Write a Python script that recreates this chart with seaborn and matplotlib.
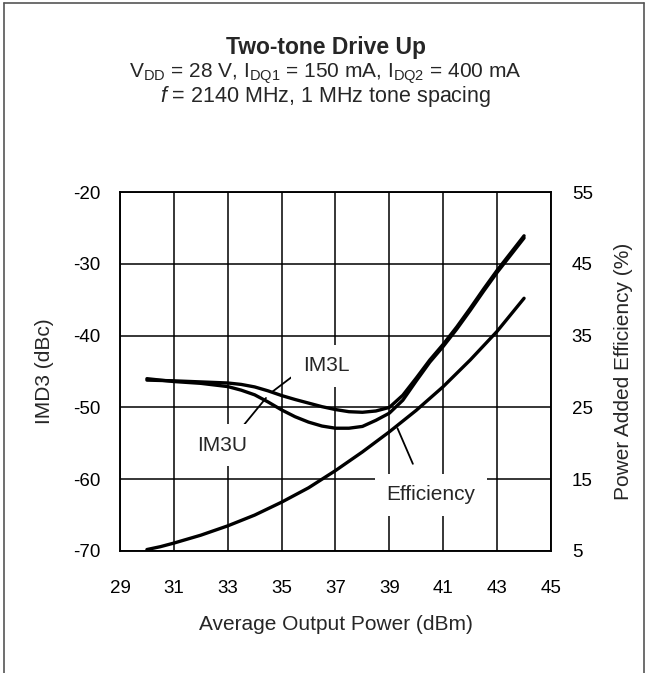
import matplotlib
matplotlib.use("Agg")
import matplotlib.pyplot as plt
from matplotlib.lines import Line2D
import pandas as pd
import seaborn as sns

# Average output power (dBm) for the two IMD3 curves
pout = [30, 31, 32, 33, 33.5, 34, 34.5, 35, 35.5, 36, 36.5, 37, 37.5, 38, 38.5,
        39, 39.5, 40, 40.5, 41, 41.5, 42, 42.5, 43, 43.5, 44]
# IMD3 (dBc)
im3l = [-46.2, -46.3, -46.45, -46.6, -46.8, -47.15, -47.7, -48.35, -48.9, -49.4,
        -49.9, -50.3, -50.6, -50.68, -50.5, -50.0, -48.3, -45.9, -43.4, -41.2,
        -38.8, -36.2, -33.5, -30.9, -28.5, -26.1]
im3u = [-46.0, -46.4, -46.65, -47.1, -47.6, -48.25, -49.25, -50.35, -51.3, -52.05,
        -52.6, -52.9, -52.9, -52.65, -51.8, -50.8, -49.0, -46.3, -43.7, -41.5,
        -39.1, -36.5, -33.8, -31.2, -28.8, -26.4]
# Power added efficiency (%)
eff_pout = [30, 30.5, 31, 32, 33, 34, 35, 36, 37, 38, 39, 40, 41, 42, 43, 44]
eff = [5.2, 5.6, 6.1, 7.2, 8.5, 10.0, 11.8, 13.8, 16.2, 18.8, 21.6, 24.6, 27.9,
       31.6, 35.6, 40.2]

x_ticks = [29, 31, 33, 35, 37, 39, 41, 43, 45]
imd_ticks = [-70, -60, -50, -40, -30, -20]
eff_ticks = [5, 15, 25, 35, 45, 55]

sns.set_theme(style="white")
plt.rcParams["font.family"] = ["Liberation Sans", "DejaVu Sans"]
plt.rcParams["mathtext.fontset"] = "custom"
plt.rcParams["mathtext.rm"] = "Liberation Sans"
plt.rcParams["mathtext.it"] = "Liberation Sans:italic"
plt.rcParams["axes.unicode_minus"] = False

df = pd.DataFrame({"pout": pout, "IM3L": im3l, "IM3U": im3u})
df_eff = pd.DataFrame({"pout": eff_pout, "eff": eff})

fig = plt.figure(figsize=(6.51, 6.73), dpi=100)
ax = fig.add_axes([0.1843, 0.1813, 0.6621, 0.5334])
ax2 = ax.twinx()

lw_curve = 2.4
sns.lineplot(data=df, x="pout", y="IM3L", ax=ax, color="black", lw=lw_curve)
sns.lineplot(data=df, x="pout", y="IM3U", ax=ax, color="black", lw=lw_curve)
sns.lineplot(data=df_eff, x="pout", y="eff", ax=ax2, color="black", lw=lw_curve)

ax.set_xlim(29, 45)
ax.set_ylim(-70, -20)
ax2.set_ylim(5, 55)
ax.set_xticks(x_ticks)
ax.set_yticks(imd_ticks)
ax2.set_yticks(eff_ticks)

ax.grid(True, color="black", lw=1.1)
for a in (ax, ax2):
    for s in a.spines.values():
        s.set_color("black")
        s.set_linewidth(1.1)
ax.tick_params(axis="both", length=0, labelsize=13.5, colors="black")
ax.tick_params(axis="y", pad=14)
ax.tick_params(axis="x", pad=21)
ax2.tick_params(axis="y", length=0, labelsize=13.5, pad=15, colors="black")

ax.set_xlabel("Average Output Power (dBm)", fontsize=15, labelpad=13)
ax.set_ylabel("IMD3 (dBc)", fontsize=15, labelpad=14)
ax2.set_ylabel("Power Added Efficiency (%)", fontsize=15, labelpad=15)

box = dict(boxstyle="square,pad=0.55", fc="white", ec="none")
line = dict(arrowstyle="-", color="black", lw=1.3, shrinkA=0, shrinkB=0)
ax2.annotate("IM3L", xy=(34.64, -47.86), xycoords=ax.transData,
             xytext=(36.65, -44.2), textcoords=ax.transData,
             fontsize=15, ha="center", va="center", bbox=box,
             arrowprops=dict(line, relpos=(0.0, 0.35)), zorder=5)
ax2.annotate("IM3U", xy=(34.42, -48.69), xycoords=ax.transData,
             xytext=(32.8, -55.3), textcoords=ax.transData,
             fontsize=15, ha="center", va="center", bbox=box,
             arrowprops=dict(line, relpos=(0.75, 1.0)), zorder=5)
ax2.annotate("Efficiency", xy=(39.3, 22.1), xytext=(40.55, 12.8),
             fontsize=15, ha="center", va="center", bbox=box,
             arrowprops=dict(line, relpos=(0.4, 1.0), shrinkA=8), zorder=5)

fig.text(0.5, 0.9198, "Two-tone Drive Up", fontsize=16.5, fontweight="bold",
         ha="center", va="baseline")
fig.text(0.5, 0.885,
         r"V$_\mathregular{DD}$ = 28 V, I$_\mathregular{DQ1}$ = 150 mA, "
         r"I$_\mathregular{DQ2}$ = 400 mA",
         fontsize=15, ha="center", va="baseline")
fig.text(0.5, 0.849, r"$\mathit{f}$ = 2140 MHz, 1 MHz tone spacing",
         fontsize=15.5, ha="center", va="baseline")

# outer frame of the figure (open at the bottom)
frame = dict(color="#555555", lw=1.2, transform=fig.transFigure)
fig.add_artist(Line2D([0.006, 0.006], [0.0, 0.996], **frame))
fig.add_artist(Line2D([0.006, 0.990], [0.996, 0.996], **frame))
fig.add_artist(Line2D([0.990, 0.990], [0.996, 0.0], **frame))

fig.savefig("out.png", dpi=100)
